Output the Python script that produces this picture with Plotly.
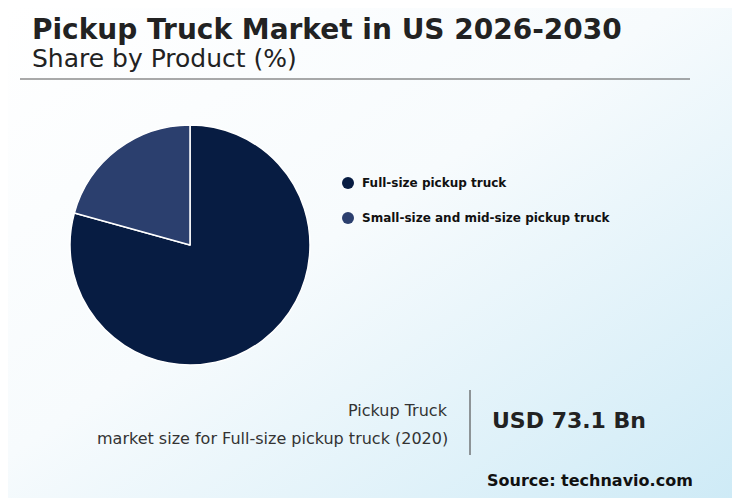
import plotly.graph_objects as go
import base64

categories = ["Full-size pickup truck", "Small-size and mid-size pickup truck"]
shares = [79.3, 20.7]
colors = ["#071c42", "#2b3f6e"]

W, H = 740, 498
OFF = 8
def px(x): return (x - OFF) / W
def py(y): return 1 - (y - OFF) / H

svg = f'''<svg xmlns="http://www.w3.org/2000/svg" width="{W}" height="{H}"><defs><linearGradient id="g" x1="0" y1="0" x2="1" y2="1"><stop offset="0" stop-color="#ffffff"/><stop offset="0.45" stop-color="#f7fbfd"/><stop offset="1" stop-color="#cdeaf6"/></linearGradient></defs><rect width="{W}" height="{H}" fill="url(#g)"/></svg>'''
uri = "data:image/svg+xml;base64," + base64.b64encode(svg.encode()).decode()

fig = go.Figure(go.Pie(
    labels=categories, values=shares, sort=False, direction="clockwise", rotation=0,
    marker=dict(colors=colors, line=dict(color="white", width=1.5)),
    textinfo="none", hoverinfo="label+percent", showlegend=False,
    domain=dict(x=[px(70), px(310)], y=[py(365), py(125)]),
))

F = "DejaVu Sans"
ann = []
shapes = []
ann.append(dict(x=px(30), y=py(30), text="<b>Pickup Truck Market in US 2026-2030</b>", showarrow=False,
                xanchor="left", yanchor="middle", font=dict(size=28, color="#222", family=F)))
ann.append(dict(x=px(30), y=py(59), text="Share by Product (%)", showarrow=False,
                xanchor="left", yanchor="middle", font=dict(size=25, color="#222", family=F)))
shapes.append(dict(type="line", xref="paper", yref="paper", x0=px(20), x1=px(690), y0=py(79), y1=py(79),
                   line=dict(color="#555", width=1.2)))
for i, (c, col) in enumerate(zip(categories, colors)):
    y = 183 + i * 35
    shapes.append(dict(type="circle", xref="paper", yref="paper", x0=px(342), x1=px(354),
                       y0=py(y + 6), y1=py(y - 6), fillcolor=col, line=dict(width=0)))
    ann.append(dict(x=px(360), y=py(y), text=f"<b>{c}</b>", showarrow=False, xanchor="left",
                    yanchor="middle", font=dict(size=12, color="#111", family=F)))
ann.append(dict(x=px(450), y=py(410), text="Pickup Truck", showarrow=False, xanchor="right",
                yanchor="middle", font=dict(size=16, color="#333", family=F)))
ann.append(dict(x=px(450), y=py(438), text="market size for Full-size pickup truck (2020)", showarrow=False,
                xanchor="right", yanchor="middle", font=dict(size=16, color="#333", family=F)))
shapes.append(dict(type="line", xref="paper", yref="paper", x0=px(470), x1=px(470), y0=py(390), y1=py(455),
                   line=dict(color="#555", width=1.2)))
ann.append(dict(x=px(490), y=py(420), text="<b>USD 73.1 Bn</b>", showarrow=False, xanchor="left",
                yanchor="middle", font=dict(size=22, color="#222", family=F)))
ann.append(dict(x=px(695), y=py(480), text="<b>Source: technavio.com</b>", showarrow=False, xanchor="right",
                yanchor="middle", font=dict(size=16, color="#111", family=F)))

fig.update_layout(
    width=W, height=H, margin=dict(l=0, r=0, t=0, b=0),
    paper_bgcolor="white", plot_bgcolor="white",
    annotations=ann, shapes=shapes,
    images=[dict(source=uri, xref="paper", yref="paper", x=0, y=1, sizex=1, sizey=1,
                 sizing="stretch", layer="below", xanchor="left", yanchor="top")],
)
fig.write_html("out.html")
